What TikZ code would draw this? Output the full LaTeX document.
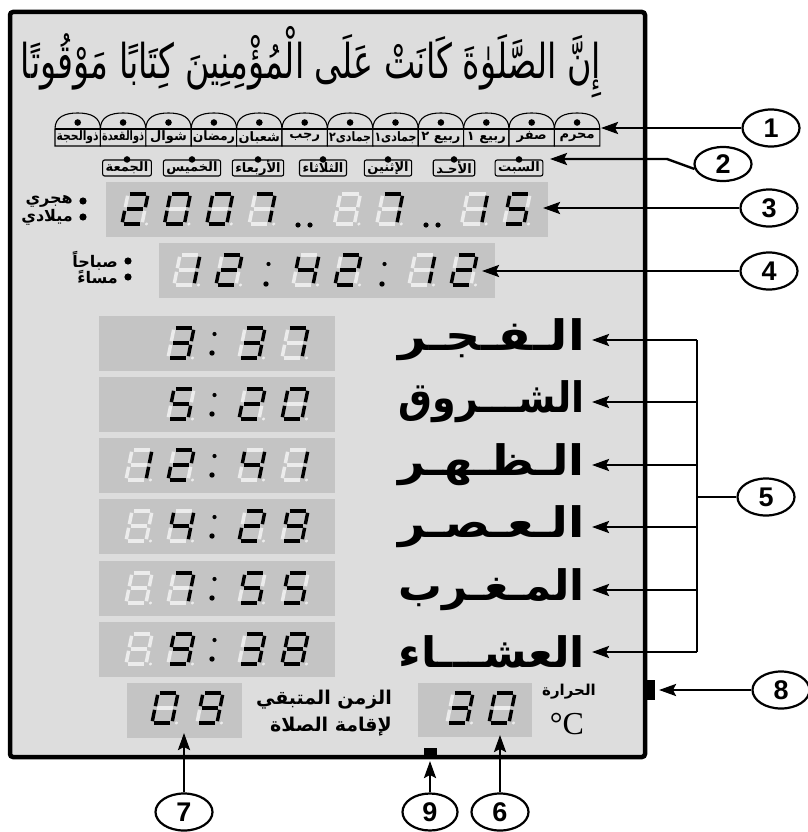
\documentclass[tikz,border=0pt]{standalone}
\usepackage{fontspec}
\usepackage{graphicx}
\usetikzlibrary{arrows.meta,shapes.geometric}
\setmainfont{Liberation Sans}
\newfontfamily\ar[Script=Arabic]{DejaVu Sans}
\newfontfamily\arb[Script=Arabic]{DejaVu Sans Bold}
\newfontfamily\serifC{Liberation Serif}
\TeXXeTstate=1
\definecolor{panelgray}{RGB}{221,221,221}
\definecolor{dispgray}{RGB}{196,196,196}
\definecolor{unlitgray}{RGB}{236,236,236}

\newsavebox\fitbox
\newcommand\fitto[2]{\sbox\fitbox{#2}\ifdim\wd\fitbox>#1\relax\resizebox{#1}{\ht\fitbox}{\usebox\fitbox}\else\usebox\fitbox\fi}

\expandafter\def\csname Dl0\endcsname{a,b,c,d,e,f}
\expandafter\def\csname Dl1\endcsname{b,c}
\expandafter\def\csname Dl2\endcsname{a,b,d,e,g}
\expandafter\def\csname Dl3\endcsname{a,b,c,d,g}
\expandafter\def\csname Dl4\endcsname{b,c,f,g}
\expandafter\def\csname Dl5\endcsname{a,c,d,f,g}
\expandafter\def\csname Dl7\endcsname{a,b,c}
\expandafter\def\csname Dl8\endcsname{a,b,c,d,e,f,g}
\expandafter\def\csname Dl9\endcsname{a,b,c,d,f,g}

\newcommand\segcoords{%
  \coordinate (sga1) at (1.8,30); \coordinate (sga2) at (18.2,30);
  \coordinate (sgb1) at (20,28.2); \coordinate (sgb2) at (20,16.8);
  \coordinate (sgc1) at (20,13.2); \coordinate (sgc2) at (20,1.8);
  \coordinate (sgd1) at (1.8,0); \coordinate (sgd2) at (18.2,0);
  \coordinate (sge1) at (0,13.2); \coordinate (sge2) at (0,1.8);
  \coordinate (sgf1) at (0,28.2); \coordinate (sgf2) at (0,16.8);
  \coordinate (sgg1) at (1.8,15); \coordinate (sgg2) at (18.2,15);}
\newcommand\udig[2]{\begin{scope}[shift={(#1,#2)},y=1pt,xslant=0.2]
  \segcoords
  \foreach \s in {a,b,c,d,e,f,g}{\draw[unlitseg] (sg\s1) -- (sg\s2);}
  \fill[unlitgray] (24.5,0) circle (1.7);
\end{scope}}
\newcommand\dig[3]{\udig{#1}{#2}%
 \begin{scope}[shift={(#1,#2)},y=1pt,xslant=0.2]
  \segcoords
  \expandafter\let\expandafter\curlist\csname Dl#3\endcsname
  \foreach \s in \curlist {\draw[litseg] (sg\s1) -- (sg\s2);}
 \end{scope}}
\newcommand\colonp[3]{\fill (#1+2.5,#2) circle (2.1); \fill (#1,#3) circle (2.7);}
\newcommand\dotpair[2]{\fill (#1,#2) circle (2.6); \fill (#1+12,#2) circle (2.6);}

\begin{document}
\begin{tikzpicture}[x=1pt,y=-1pt,
  litseg/.style={line width=3.5pt,black},
  unlitseg/.style={line width=3.5pt,unlitgray},
  arr/.style={line width=2.4pt,-{Stealth[length=17pt,width=12pt,inset=3pt]}},
  numc/.style={ellipse,draw,line width=2.2pt,minimum width=57pt,minimum height=37pt,inner sep=0pt,font=\bfseries\fontsize{27}{27}\selectfont},
  disp/.style={rectangle,fill=dispgray,inner sep=0pt,anchor=north west},
  tabtext/.style={font=\arb\fontsize{13}{13}\selectfont,inner sep=0pt},
  daybox/.style={draw,rounded corners=2pt,line width=1.1pt,fill=panelgray,minimum height=16pt,minimum width=34pt,inner xsep=3pt,inner ysep=0pt,font=\arb\fontsize{13}{13}\selectfont},
  lbl/.style={font=\arb\fontsize{16}{16}\selectfont,inner sep=0pt,anchor=east},
  pname/.style={font=\arb\fontsize{42}{42}\selectfont,inner sep=0pt,anchor=east},
]
\useasboundingbox (0,0) rectangle (807,832);
\fill[white] (0,0) rectangle (807,832);
% panel
\draw[line width=4.5pt,fill=panelgray,rounded corners=3pt] (10,12) rectangle (645,757);
% verse
\node[inner sep=0pt] (verse) at (311,62) {\resizebox*{580pt}{72pt}{\ar\beginR إِنَّ الصَّلَوٰةَ كَانَتْ عَلَى الْمُؤْمِنِينَ كِتَابًا مَوْقُوتًا\endR}};
% month tabs
\foreach \i/\m in {0/ذوالحجة,1/ذوالقعدة,2/شوال,3/رمضان,4/شعبان,5/رجب,6/جمادى٢,7/جمادى١,8/ربيع ٢,9/ربيع ١,10/صفر,11/محرم}{
  \pgfmathsetmacro\xa{55+45.4*\i}
  \pgfmathsetmacro\xb{\xa+45.4}
  \pgfmathsetmacro\xc{\xa+22.7}
  \draw[line width=1.1pt,fill=panelgray] (\xa,146) -- (\xa,129) .. controls (\xa,117) and (\xc-13,113) .. (\xc,113) .. controls (\xc+13,113) and (\xb,117) .. (\xb,129) -- (\xb,146) -- cycle;
  \draw[line width=1.1pt] (\xa,129) -- (\xb,129);
  \fill (\xc,122.5) circle (3.3);
  \node[tabtext] (m\i) at (\xc,137.5) {\fitto{42pt}{\beginR\m\endR}};
}
% day boxes
\foreach \i/\d/\x in {0/الجمعة/127,1/الخميس/192,2/الأربعاء/258,3/الثلاثاء/323,4/الإثنين/388,5/الأحـد/454,6/السبت/519}{
  \node[daybox] (d\i) at (\x,168) {\beginR\d\endR};
  \fill (d\i.north) circle (3.3);
}
% date display
\node[disp,minimum width=442pt,minimum height=55pt] (date) at (106,182) {};
\dig{122}{224}{2}
\dig{164.4}{224}{0}
\dig{206.8}{224}{0}
\dig{249.2}{224}{7}
\dotpair{298}{225}
\udig{334.4}{224}
\dig{376.8}{224}{7}
\dotpair{426}{225}
\dig{461.6}{224}{1}
\dig{504}{224}{5}
\node[lbl] (hijri) at (73,201) {\beginR هجري\endR};
\node[lbl] (milad) at (73,217) {\beginR ميلادي\endR};
\fill (83,201) circle (3.6);
\fill (83,217) circle (3.6);
% time display
\node[disp,minimum width=336pt,minimum height=55pt] (time) at (159,243) {};
\dig{174}{285}{1}
\dig{216}{285}{2}
\colonp{266}{264}{284}
\dig{293}{285}{4}
\dig{335}{285}{2}
\colonp{382}{264}{284}
\dig{409}{285}{1}
\dig{451}{285}{2}
\node[lbl] (sabah) at (118,261) {\beginR صباحاً\endR};
\node[lbl] (masa) at (118,277) {\beginR مساءً\endR};
\fill (128,261) circle (3.6);
\fill (128,277) circle (3.6);
% prayer boxes
\foreach \i/\t in {1/316,2/377,3/438,4/499,5/561,6/622}{
  \node[disp,minimum width=236pt,minimum height=55pt] (p\i) at (99,\t) {};
}
% row 1: 3:37
\dig{168}{358}{3} \colonp{212}{334}{353} \dig{239}{358}{3} \dig{282}{358}{7}
% row 2: 5:20
\dig{168}{419}{5} \colonp{212}{395}{414} \dig{239}{419}{2} \dig{282}{419}{0}
% row 3: 12:41
\dig{126}{480}{1} \dig{168}{480}{2} \colonp{212}{456}{475} \dig{239}{480}{4} \dig{282}{480}{1}
% row 4: 4:29
\udig{126}{541} \dig{168}{541}{4} \colonp{212}{517}{536} \dig{239}{541}{2} \dig{282}{541}{9}
% row 5: 7:55
\udig{126}{603} \dig{168}{603}{7} \colonp{212}{579}{598} \dig{239}{603}{5} \dig{282}{603}{5}
% row 6: 9:38
\udig{126}{664} \dig{168}{664}{9} \colonp{212}{640}{659} \dig{239}{664}{3} \dig{282}{664}{8}
% prayer names
\node[pname] (n1) at (585,340) {\resizebox{186pt}{\height}{\beginR الـفـجـر\endR}};
\node[pname] (n2) at (585,402) {\resizebox{186pt}{\height}{\beginR الشـــروق\endR}};
\node[pname] (n3) at (585,465) {\resizebox{186pt}{\height}{\beginR الـظـهـر\endR}};
\node[pname] (n4) at (585,527) {\resizebox{186pt}{\height}{\beginR الـعـصـر\endR}};
\node[pname] (n5) at (585,590) {\resizebox{186pt}{\height}{\beginR المـغـرب\endR}};
\node[pname] (n6) at (585,652) {\resizebox{186pt}{\height}{\beginR العشـــاء\endR}};
% bottom displays
\node[disp,minimum width=115pt,minimum height=55pt] (iqama) at (127,683) {};
\dig{152}{723}{0}
\dig{197}{723}{9}
\node[disp,minimum width=114pt,minimum height=54pt] (temp) at (418,683) {};
\dig{447}{723}{3}
\dig{489}{723}{0}
\node[font=\arb\fontsize{19}{19}\selectfont,inner sep=0pt,anchor=east] (rem1) at (392,700) {\fitto{140pt}{\beginR الزمن المتبقي\endR}};
\node[font=\arb\fontsize{19}{19}\selectfont,inner sep=0pt,anchor=east] (rem2) at (392,727) {\fitto{140pt}{\beginR لإقامة الصلاة\endR}};
\node[font=\arb\fontsize{15}{15}\selectfont,inner sep=0pt] (heat) at (569,692) {\beginR الحرارة\endR};
\node[font=\serifC\fontsize{32}{32}\selectfont,inner sep=0pt] (degc) at (567,724) {°C};
% side connectors
\fill (643,680) rectangle (655,700);
\fill (424,748) rectangle (437,757);
% number circles
\node[numc] (num1) at (771,128) {1};
\node[numc,minimum height=34pt] (num2) at (723,164) {2};
\node[numc] (num3) at (769,208) {3};
\node[numc] (num4) at (769,271) {4};
\node[numc] (num5) at (766,497) {5};
\node[numc] (num6) at (500,812) {6};
\node[numc] (num7) at (184,812) {7};
\node[numc] (num8) at (781,690) {8};
\node[numc,minimum width=55pt] (num9) at (430,812) {9};
% arrows
\coordinate (t1) at (601,128);
\draw[arr] (num1) -- (t1);
\coordinate (k2) at (667,159);
\coordinate (t2) at (550,159);
\draw[arr] (num2.190) -- (k2) -- (t2);
\coordinate (t3) at (543,208);
\draw[arr] (num3) -- (t3);
\coordinate (t4) at (482,271);
\draw[arr] (num4) -- (t4);
\foreach \i/\y in {1/340,2/402,3/465,4/527,5/590,6/652}{
  \coordinate (bk\i) at (697,\y);
  \coordinate (tp\i) at (592,\y);
  \draw[arr] (bk\i) -- (tp\i);
}
\draw[line width=2.4pt,line cap=square] (bk1) -- (bk6);
\coordinate (bkm) at (697,497);
\draw[line width=2.4pt] (bkm) -- (num5);
\coordinate (t6) at (500,735);
\draw[arr] (num6) -- (t6);
\coordinate (t7) at (184,733);
\draw[arr] (num7) -- (t7);
\coordinate (t8) at (659,690);
\draw[arr] (num8) -- (t8);
\coordinate (t9) at (430,761);
\draw[arr] (num9) -- (t9);
\end{tikzpicture}
\end{document}
